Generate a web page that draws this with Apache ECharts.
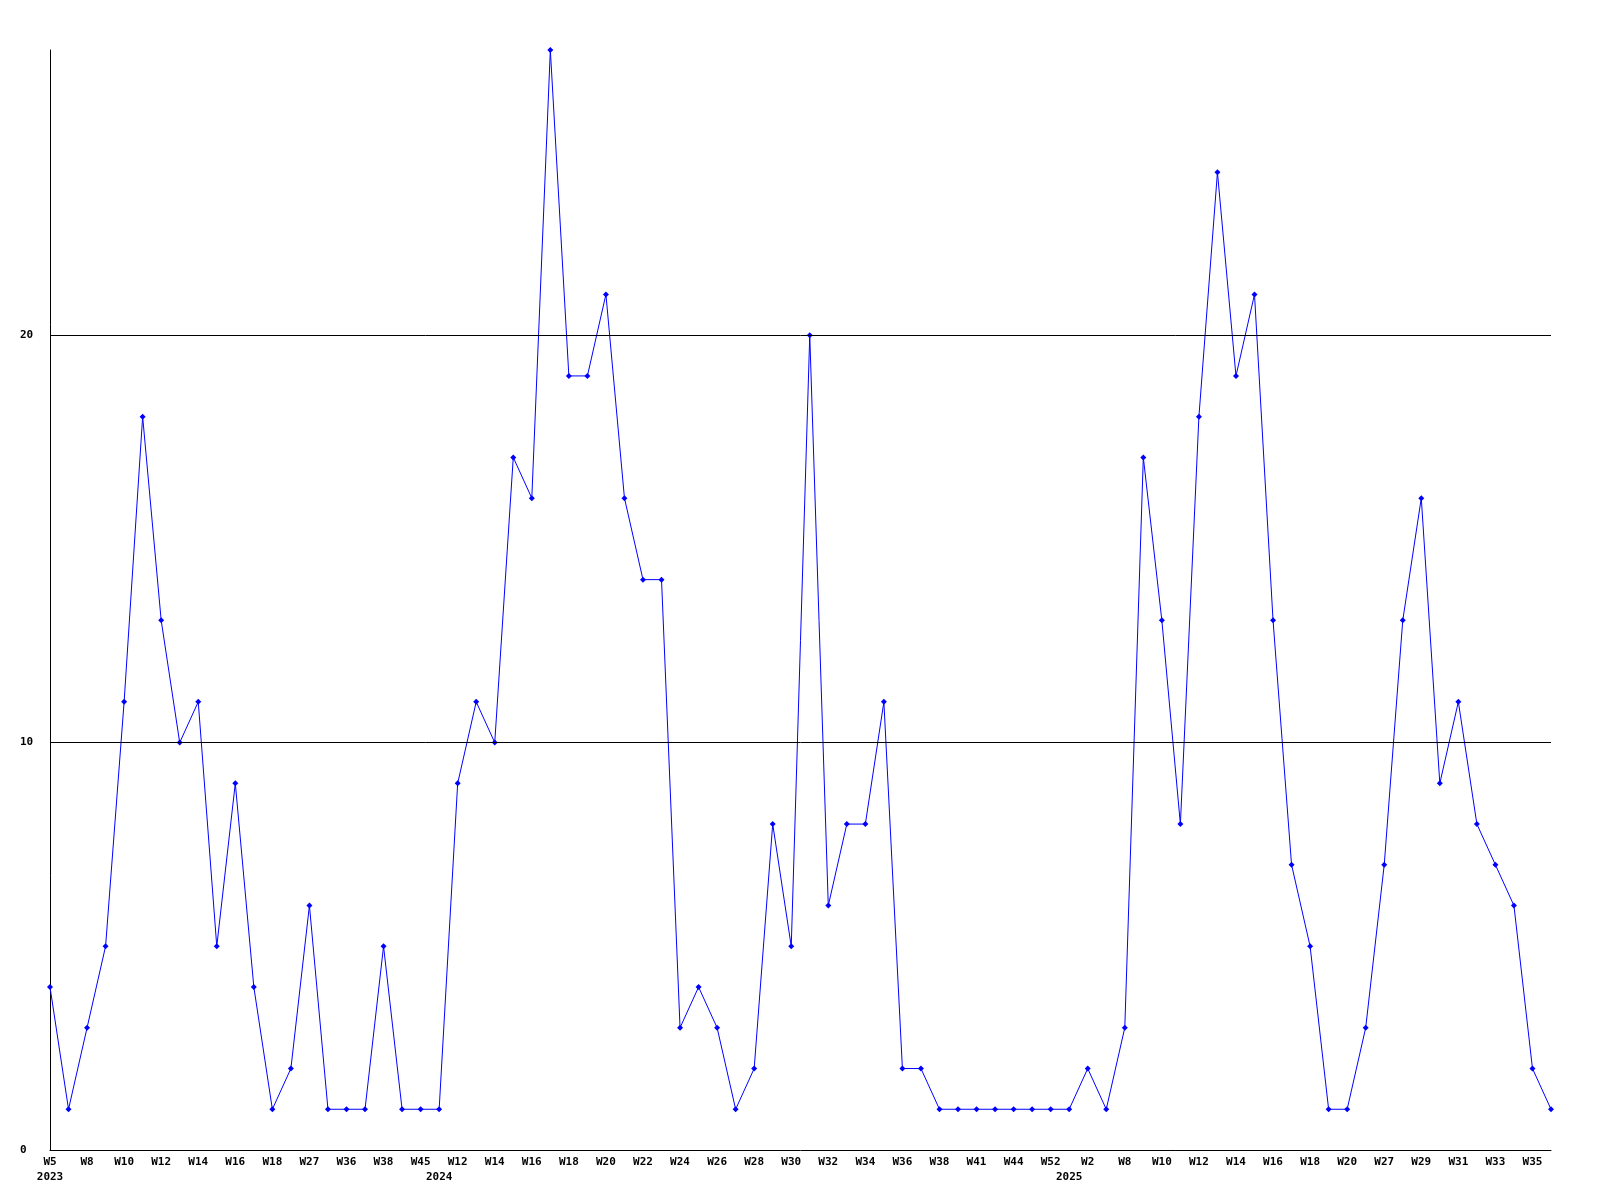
<!DOCTYPE html>
<html>
<head>
<meta charset="utf-8">
<script src="https://cdn.jsdelivr.net/npm/echarts@6/dist/echarts.min.js"></script>
<style>
html,body{margin:0;padding:0;background:#fff;}
#chart{width:1600px;height:1200px;}
</style>
</head>
<body>
<div id="chart"></div>
<script>
// Week categories (every other one is labelled on the axis)
const weeks = [
  "W5","W6","W8","W9","W10","W11","W12","W13","W14","W15",
  "W16","W17","W18","W19","W27","W28","W36","W37","W38","W44",
  "W45","W11","W12","W13","W14","W15","W16","W17","W18","W19",
  "W20","W21","W22","W23","W24","W25","W26","W27","W28","W29",
  "W30","W31","W32","W33","W34","W35","W36","W37","W38","W39",
  "W41","W42","W44","W51","W52","W1","W2","W7","W8","W9",
  "W10","W11","W12","W13","W14","W15","W16","W17","W18","W19",
  "W20","W26","W27","W28","W29","W30","W31","W32","W33","W34",
  "W35","W36"
];
// Year shown beneath the first week of each year
const yearMarks = {0: "2023", 21: "2024", 55: "2025"};
const values = [
  4,1,3,5,11,18,13,10,11,5,
  9,4,1,2,6,1,1,1,5,1,
  1,1,9,11,10,17,16,27,19,19,
  21,16,14,14,3,4,3,1,2,8,
  5,20,6,8,8,11,2,2,1,1,
  1,1,1,1,1,1,2,1,3,17,
  13,8,18,24,19,21,13,7,5,1,
  1,3,7,13,16,9,11,8,7,6,
  2,1
];
const gridValues = [10, 20];
const yMin = 0, yMax = 27, yInterval = 10;

const chart = echarts.init(document.getElementById('chart'), null, {renderer: 'canvas'});
const fontFamily = '"DejaVu Sans Mono", "Liberation Mono", monospace';
chart.setOption({
  animation: false,
  backgroundColor: '#ffffff',
  grid: {left: 50, right: 49, top: 50, bottom: 50, containLabel: false},
  xAxis: {
    type: 'category',
    data: weeks,
    boundaryGap: false,
    axisLine: {show: true, lineStyle: {color: '#000', width: 1}},
    axisTick: {show: false},
    splitLine: {show: false},
    axisLabel: {
      interval: 0,
      margin: 5,
      color: '#000',
      fontFamily: fontFamily,
      fontWeight: 'bold',
      fontSize: 11,
      lineHeight: 15,
      formatter: function (value, index) {
        const w = index % 2 === 0 ? value : '';
        const y = yearMarks[index];
        return y ? (w + '\n' + y) : w;
      }
    }
  },
  yAxis: {
    type: 'value',
    min: yMin,
    max: yMax,
    interval: yInterval,
    axisLine: {show: true, lineStyle: {color: '#000', width: 1}},
    axisTick: {show: false},
    splitLine: {show: false},
    axisLabel: {
      showMaxLabel: false,
      align: 'left',
      margin: 30,
      color: '#000',
      fontFamily: fontFamily,
      fontWeight: 'bold',
      fontSize: 11
    }
  },
  series: [{
    type: 'line',
    data: values,
    symbol: 'diamond',
    symbolSize: 6,
    showSymbol: true,
    lineStyle: {color: '#0000ff', width: 1},
    itemStyle: {color: '#0000ff'},
    markLine: {
      silent: true,
      symbol: ['none', 'none'],
      label: {show: false},
      lineStyle: {color: '#000', width: 1, type: 'solid'},
      data: gridValues.map(v => ({yAxis: v}))
    },
    z: 3
  }]
});
</script>
</body>
</html>
